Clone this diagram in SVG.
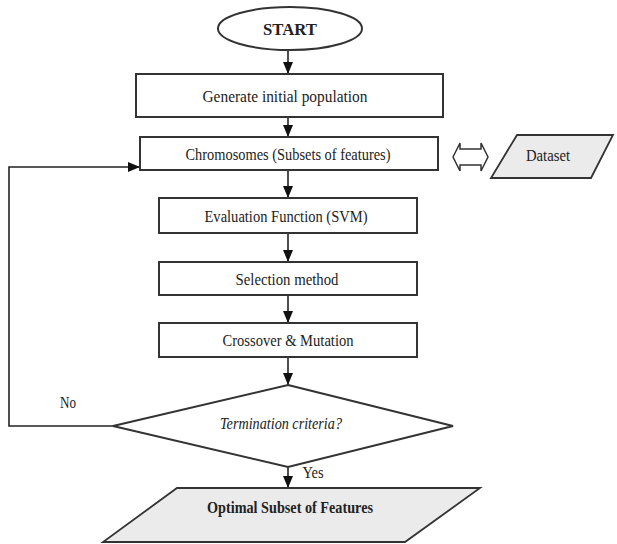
<svg xmlns="http://www.w3.org/2000/svg" width="617" height="544" viewBox="0 0 617 544">
<style>
.box{fill:#fff;stroke:#333;stroke-width:2}
.io{fill:#ebebeb;stroke:#333;stroke-width:1.8}
.line{fill:none;stroke:#222;stroke-width:1.6}
.t{font-family:"Liberation Serif","Times New Roman",serif;font-size:16.5px;fill:#222;text-anchor:middle;dominant-baseline:central}
.b{font-weight:bold}
.i{font-style:italic}
</style>
<defs>
<marker id="ah" viewBox="0 0 12 10" markerWidth="12" markerHeight="10" refX="12" refY="5" orient="auto" markerUnits="userSpaceOnUse">
<path d="M0,0 L12,5 L0,10 z" fill="#111"/>
</marker>
</defs>
<rect width="617" height="544" fill="#fff"/>
<g id="connectors">
<line class="line" x1="288" y1="50" x2="288" y2="74" marker-end="url(#ah)"/>
<line class="line" x1="288" y1="117" x2="288" y2="137" marker-end="url(#ah)"/>
<line class="line" x1="288" y1="170" x2="288" y2="198" marker-end="url(#ah)"/>
<line class="line" x1="288" y1="233" x2="288" y2="262" marker-end="url(#ah)"/>
<line class="line" x1="288" y1="295" x2="288" y2="323" marker-end="url(#ah)"/>
<line class="line" x1="288" y1="357" x2="288" y2="385" marker-end="url(#ah)"/>
<line class="line" x1="288" y1="467" x2="288" y2="488" marker-end="url(#ah)"/>
<polyline class="line" points="113,426 9,426 9,167 140,167" marker-end="url(#ah)"/>
<polygon points="453,157 460,143 460,149 481,149 481,143 488,157 481,171 481,165 460,165 460,171" fill="#fff" stroke="#333" stroke-width="1.5"/>
<text class="t" x="68" y="402" textLength="16" lengthAdjust="spacingAndGlyphs">No</text>
<text class="t" x="313" y="472" textLength="21" lengthAdjust="spacingAndGlyphs">Yes</text>
</g>
<g id="start">
<ellipse class="box" cx="290" cy="28.5" rx="72" ry="21.5"/>
<text class="t b" x="290" y="29" font-size="17" textLength="54" lengthAdjust="spacingAndGlyphs">START</text>
</g>
<g id="generate">
<rect class="box" x="136" y="74" width="307" height="43"/>
<text class="t" x="285" y="96" textLength="165" lengthAdjust="spacingAndGlyphs">Generate initial population</text>
</g>
<g id="chromosomes">
<rect class="box" x="140" y="137" width="298" height="33"/>
<text class="t" x="288" y="154" textLength="205" lengthAdjust="spacingAndGlyphs">Chromosomes (Subsets of features)</text>
</g>
<g id="dataset">
<polygon class="io" points="517,135 613,135 591,178 491,178"/>
<text class="t" x="548" y="155" textLength="44" lengthAdjust="spacingAndGlyphs">Dataset</text>
</g>
<g id="evaluation">
<rect class="box" x="159" y="198" width="258" height="35"/>
<text class="t" x="286" y="216" textLength="163" lengthAdjust="spacingAndGlyphs">Evaluation Function (SVM)</text>
</g>
<g id="selection">
<rect class="box" x="159" y="262" width="258" height="33"/>
<text class="t" x="287" y="279" textLength="103" lengthAdjust="spacingAndGlyphs">Selection method</text>
</g>
<g id="crossover">
<rect class="box" x="159" y="323" width="258" height="34"/>
<text class="t" x="288" y="340" textLength="131" lengthAdjust="spacingAndGlyphs">Crossover &amp; Mutation</text>
</g>
<g id="termination">
<polygon class="box" points="288,385 453,426 288,467 113,426" stroke-width="1.6"/>
<text class="t i" x="281" y="423" font-size="15.5" textLength="122" lengthAdjust="spacingAndGlyphs">Termination criteria?</text>
</g>
<g id="optimal">
<polygon class="io" points="177,488 480,488 405,542 103,542"/>
<text class="t b" x="290" y="507" font-size="16.5" textLength="166" lengthAdjust="spacingAndGlyphs">Optimal Subset of Features</text>
</g>
</svg>
